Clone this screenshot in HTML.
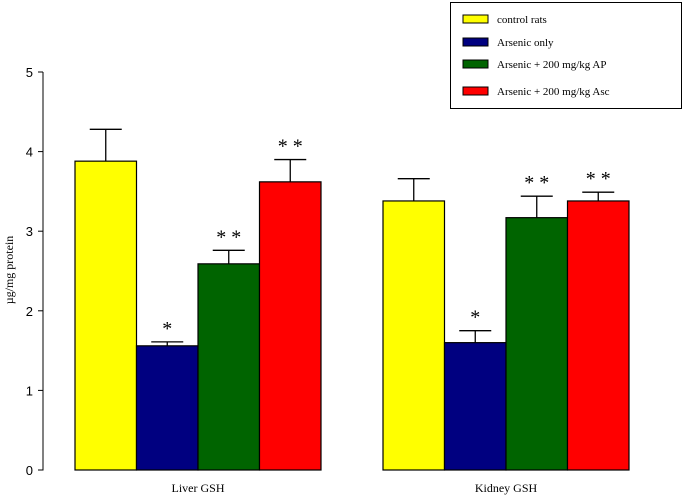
<!DOCTYPE html>
<html><head><style>body{margin:0;background:#fff}svg{display:block}</style></head><body>
<svg width="685" height="496" xmlns="http://www.w3.org/2000/svg" font-family="Liberation Sans, sans-serif">
<g id="plot"></g>
<text transform="translate(13,270) rotate(-90)" text-anchor="middle" font-family="Liberation Serif, serif" font-size="12">µg/mg protein</text>
<g>
<rect x="450.5" y="2.5" width="231" height="106" fill="#fff" stroke="#000"/>
<rect x="463" y="15" width="25" height="8" fill="#ffff00" stroke="#000"/>
<text x="497" y="23" font-family="Liberation Serif, serif" font-size="11">control rats</text>
<rect x="463" y="38" width="25" height="8" fill="#000080" stroke="#000"/>
<text x="497" y="46" font-family="Liberation Serif, serif" font-size="11">Arsenic only</text>
<rect x="463" y="60" width="25" height="8" fill="#006400" stroke="#000"/>
<text x="497" y="68" font-family="Liberation Serif, serif" font-size="11">Arsenic + 200 mg/kg AP</text>
<rect x="463" y="87" width="25" height="8" fill="#ff0000" stroke="#000"/>
<text x="497" y="95" font-family="Liberation Serif, serif" font-size="11">Arsenic + 200 mg/kg Asc</text>
</g>
</svg>
<script>
const groups = ["Liver GSH", "Kidney GSH"];
const seriesNames = ["control", "arsenic", "ap", "asc"];
const seriesColors = ["#ffff00", "#000080", "#006400", "#ff0000"];
const means = [[3.88, 1.56, 2.59, 3.62], [3.38, 1.60, 3.17, 3.38]];
const errors = [[0.40, 0.05, 0.17, 0.28], [0.28, 0.15, 0.27, 0.11]];
const stars = [["", "*", "* *", "* *"], ["", "*", "* *", "* *"]];
const yTicks = [0, 1, 2, 3, 4, 5];

const NS = "http://www.w3.org/2000/svg";
const g = document.getElementById("plot");
const y0 = 470, yTop = 72, yMax = 5;
const y = v => y0 - v / yMax * (y0 - yTop);
const groupStart = [75, 383], barW = 61.5;
const x = (gi, si) => groupStart[gi] + si * barW;
function mk(tag, attrs, parent) {
  const e = document.createElementNS(NS, tag);
  for (const k in attrs) e.setAttribute(k, attrs[k]);
  (parent || g).appendChild(e);
  return e;
}
const ax = mk("line", {x1: 43, y1: y(5), x2: 43, y2: y0 + 0.5, stroke: "#000"});


yTicks.forEach(t => {
  const tk = mk("line", {x1: 38, x2: 43, y1: y(t), y2: y(t), stroke: "#000"});
  
  
  const tl = mk("text", {x: 33, y: y(t) + 5, "text-anchor": "end", "font-size": 13});
  tl.textContent = t;
  
  
});
groups.forEach((name, gi) => {
  means[gi].forEach((v, si) => {
    const cx = x(gi, si) + barW / 2;
    const et = y(v + errors[gi][si]);
    const el = mk("line", {x1: cx, x2: cx, y1: y(v), y2: et, stroke: "#000", "stroke-width": 1.3});
    
    
    const cap = mk("line", {x1: cx - 16, x2: cx + 16, y1: et, y2: et, stroke: "#000", "stroke-width": 1.3});
    
    
    const r = mk("rect", {x: x(gi, si), y: y(v), width: barW, height: y0 - y(v), fill: seriesColors[si], stroke: "#000", "stroke-width": 1.2});
    
    
    if (stars[gi][si]) {
      const s = mk("text", {x: cx, y: et - 7, "text-anchor": "middle", "font-size": 20, "font-family": "Liberation Serif, serif"});
      s.textContent = stars[gi][si];
      
      
    }
  });
  const gl = mk("text", {x: groupStart[gi] + 2 * barW, y: 492, "text-anchor": "middle", "font-size": 12, "font-family": "Liberation Serif, serif"});
  gl.textContent = name;
  
  
});
</script>
</body></html>
